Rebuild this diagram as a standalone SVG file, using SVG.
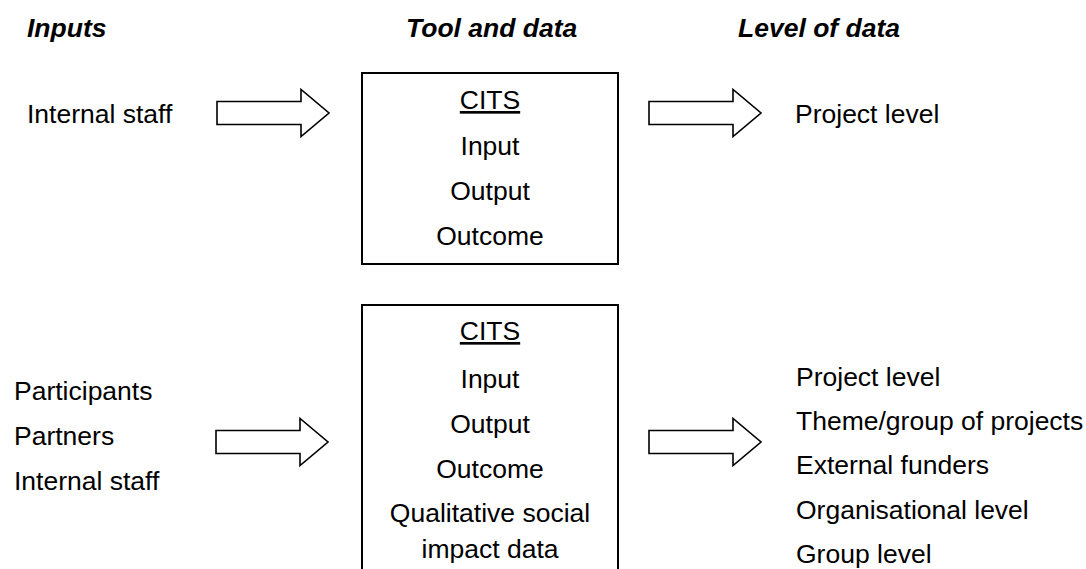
<svg xmlns="http://www.w3.org/2000/svg" xmlns:xlink="http://www.w3.org/1999/xlink" width="1086" height="569" viewBox="0 0 1086 569">
  <style>
    text { font-family: "Liberation Sans", Arial, sans-serif; font-size: 26.5px; fill: #000; }
    .head { font-weight: bold; font-style: italic; }
    .mid { text-anchor: middle; }
    .box { fill: #fff; stroke: #000; stroke-width: 2; }
    .arrow { fill: #fff; stroke: #000; stroke-width: 1.6; stroke-linejoin: miter; }
  </style>
  <defs>
    <!-- block arrow, origin at the middle of the shaft's tail -->
    <path id="blockArrow" d="M0,-11.5 H84 V-23.5 L112,0 L84,23.5 V11.5 H0 Z"/>
  </defs>

  <rect width="1086" height="569" fill="#fff"/>

  <!-- column headings -->
  <g id="headings">
    <text class="head" x="27" y="37">Inputs</text>
    <text class="head" x="406" y="37">Tool and data</text>
    <text class="head" x="738" y="37">Level of data</text>
  </g>

  <!-- upper row -->
  <g id="inputs-top">
    <text x="27" y="123">Internal staff</text>
  </g>
  <g id="tool-top">
    <rect class="box" x="362" y="73" width="256" height="191"/>
    <text class="mid" x="490" y="109" text-decoration="underline">CITS</text>
    <text class="mid" x="490" y="155">Input</text>
    <text class="mid" x="490" y="200">Output</text>
    <text class="mid" x="490" y="245">Outcome</text>
  </g>
  <g id="levels-top">
    <text x="795" y="123">Project level</text>
  </g>

  <!-- lower row -->
  <g id="inputs-bottom">
    <text x="14" y="400">Participants</text>
    <text x="14" y="445">Partners</text>
    <text x="14" y="490">Internal staff</text>
  </g>
  <g id="tool-bottom">
    <rect class="box" x="362" y="305" width="256" height="280"/>
    <text class="mid" x="490" y="340" text-decoration="underline">CITS</text>
    <text class="mid" x="490" y="388">Input</text>
    <text class="mid" x="490" y="433">Output</text>
    <text class="mid" x="490" y="478">Outcome</text>
    <text class="mid" x="490" y="522">Qualitative social</text>
    <text class="mid" x="490" y="558">impact data</text>
  </g>
  <g id="levels-bottom">
    <text x="796" y="386">Project level</text>
    <text x="796" y="430">Theme/group of projects</text>
    <text x="796" y="474">External funders</text>
    <text x="796" y="519">Organisational level</text>
    <text x="796" y="563">Group level</text>
  </g>

  <!-- connectors -->
  <g id="connectors">
    <use xlink:href="#blockArrow" class="arrow" transform="translate(217,113)"/>
    <use xlink:href="#blockArrow" class="arrow" transform="translate(649,113)"/>
    <use xlink:href="#blockArrow" class="arrow" transform="translate(216,442)"/>
    <use xlink:href="#blockArrow" class="arrow" transform="translate(649,442)"/>
  </g>
</svg>
